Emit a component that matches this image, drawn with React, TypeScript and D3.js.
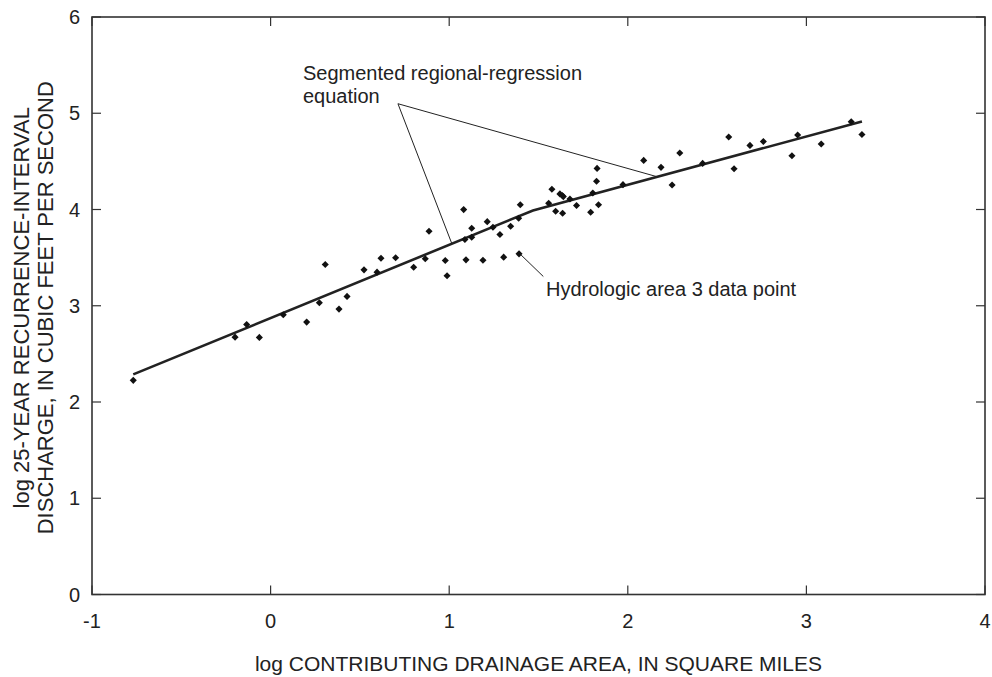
import React from "react";
import * as d3 from "d3";

// ---- data ----
const pointsX: number[] = [
  -0.769, -0.199, -0.134, -0.063, 0.071, 0.202, 0.273, 0.306, 0.383, 0.428,
  0.523, 0.596, 0.618, 0.700, 0.801, 0.866, 0.887, 0.978, 0.988, 1.081,
  1.088, 1.094, 1.126, 1.126, 1.189, 1.213, 1.245, 1.284, 1.305, 1.344,
  1.389, 1.398, 1.391, 1.557, 1.575, 1.596, 1.620, 1.633, 1.639, 1.635,
  1.676, 1.713, 1.792, 1.804, 1.825, 1.828, 1.836, 1.973, 2.089, 2.186,
  2.248, 2.291, 2.419, 2.565, 2.595, 2.684, 2.759, 2.919, 2.951, 3.083,
  3.251, 3.311,
];
const pointsY: number[] = [
  2.225, 2.674, 2.806, 2.671, 2.907, 2.830, 3.031, 3.428, 2.965, 3.097,
  3.373, 3.349, 3.494, 3.498, 3.400, 3.488, 3.774, 3.470, 3.311, 3.999,
  3.689, 3.477, 3.806, 3.712, 3.472, 3.874, 3.815, 3.740, 3.505, 3.826,
  3.909, 4.050, 3.539, 4.065, 4.210, 3.981, 4.162, 4.145, 4.134, 3.961,
  4.109, 4.041, 3.971, 4.172, 4.293, 4.427, 4.050, 4.258, 4.510, 4.438,
  4.255, 4.587, 4.479, 4.753, 4.424, 4.666, 4.707, 4.559, 4.774, 4.681,
  4.912, 4.780,
];
const regressionX: number[] = [-0.769, 1.469, 3.311];
const regressionY: number[] = [2.287, 3.99, 4.915];

const xTicks: number[] = [-1, 0, 1, 2, 3, 4];
const yTicks: number[] = [0, 1, 2, 3, 4, 5, 6];

const xTitle = "log CONTRIBUTING DRAINAGE AREA, IN SQUARE MILES";
const yTitle1 = "log 25-YEAR RECURRENCE-INTERVAL";
const yTitle2 = "DISCHARGE, IN CUBIC FEET PER SECOND";
const regLabel1 = "Segmented regional-regression";
const regLabel2 = "equation";
const pointLabel = "Hydrologic area 3 data point";

// annotation leader anchors (data coords)
const regLeaderApex: [number, number] = [0.713, 5.099];
const regLeaderEnds: [number, number][] = [
  [1.014, 3.649],
  [2.163, 4.341],
];
const pointLeader: [number, number][] = [
  [1.400, 3.532],
  [1.527, 3.304],
];

// ---- layout ----
const W = 992;
const H = 677;
const left = 92;
const right = 985;
const top = 17;
const bottom = 594.5;
const FONT = "'Liberation Sans', Arial, Helvetica, sans-serif";
const TXT = "#222";

export default function App() {
  const x = d3.scaleLinear().domain([-1, 4]).range([left, right]);
  const y = d3.scaleLinear().domain([0, 6]).range([bottom, top]);

  const line = d3
    .line<number>()
    .x((_, i) => x(regressionX[i]))
    .y((_, i) => y(regressionY[i]));

  const sym = d3.symbol().type(d3.symbolDiamond2).size(32)();
  const tickLen = 9;

  return (
    <svg
      width={W}
      height={H}
      style={{ position: "absolute", left: 0, top: 0, background: "#fff" }}
      fontFamily={FONT}
    >
      <rect x={0} y={0} width={W} height={H} fill="#fff" />
      {/* frame */}
      <rect
        x={left}
        y={top}
        width={right - left}
        height={bottom - top}
        fill="none"
        stroke="#333"
        strokeWidth={1.6}
      />
      {/* x ticks */}
      {xTicks.map((t) => (
        <g key={"xt" + t}>
          <line x1={x(t)} x2={x(t)} y1={bottom} y2={bottom - tickLen} stroke="#333" strokeWidth={1.2} />
          <line x1={x(t)} x2={x(t)} y1={top} y2={top + tickLen} stroke="#333" strokeWidth={1.2} />
          <text x={x(t)} y={628} fontSize={20} textAnchor="middle" fill={TXT}>
            {t}
          </text>
        </g>
      ))}
      {/* y ticks */}
      {yTicks.map((t) => (
        <g key={"yt" + t}>
          <line x1={left} x2={left + tickLen} y1={y(t)} y2={y(t)} stroke="#333" strokeWidth={1.2} />
          <line x1={right} x2={right - tickLen} y1={y(t)} y2={y(t)} stroke="#333" strokeWidth={1.2} />
          <text x={80} y={y(t) + 7} fontSize={20} textAnchor="end" fill={TXT}>
            {t}
          </text>
        </g>
      ))}
      {/* axis titles */}
      <text x={(left + right) / 2} y={671} fontSize={21} textAnchor="middle" fill={TXT}>
        {xTitle}
      </text>
      <text
        transform={`translate(29,${(top + bottom) / 2 + 2}) rotate(-90)`}
        fontSize={22}
        textAnchor="middle"
        fill={TXT}
      >
        {yTitle1}
      </text>
      <text
        transform={`translate(53,${(top + bottom) / 2 + 2}) rotate(-90)`}
        fontSize={22}
        textAnchor="middle"
        fill={TXT}
      >
        {yTitle2}
      </text>

      {/* regression line */}
      <path d={line(regressionX) || ""} fill="none" stroke="#222" strokeWidth={2.6} />

      {/* points */}
      {pointsX.map((px, i) => (
        <path key={"p" + i} d={sym || ""} transform={`translate(${x(px)},${y(pointsY[i])})`} fill="#111" />
      ))}

      {/* annotations */}
      {regLeaderEnds.map((e, i) => (
        <line
          key={"rl" + i}
          x1={x(regLeaderApex[0])}
          y1={y(regLeaderApex[1])}
          x2={x(e[0])}
          y2={y(e[1])}
          stroke="#222"
          strokeWidth={1}
        />
      ))}
      <text x={303} y={80} fontSize={20} fill={TXT}>
        {regLabel1}
      </text>
      <text x={303} y={103} fontSize={20} fill={TXT}>
        {regLabel2}
      </text>
      <line
        x1={x(pointLeader[0][0])}
        y1={y(pointLeader[0][1])}
        x2={x(pointLeader[1][0])}
        y2={y(pointLeader[1][1])}
        stroke="#222"
        strokeWidth={1}
      />
      <text x={546} y={296} fontSize={20} fill={TXT}>
        {pointLabel}
      </text>
    </svg>
  );
}
